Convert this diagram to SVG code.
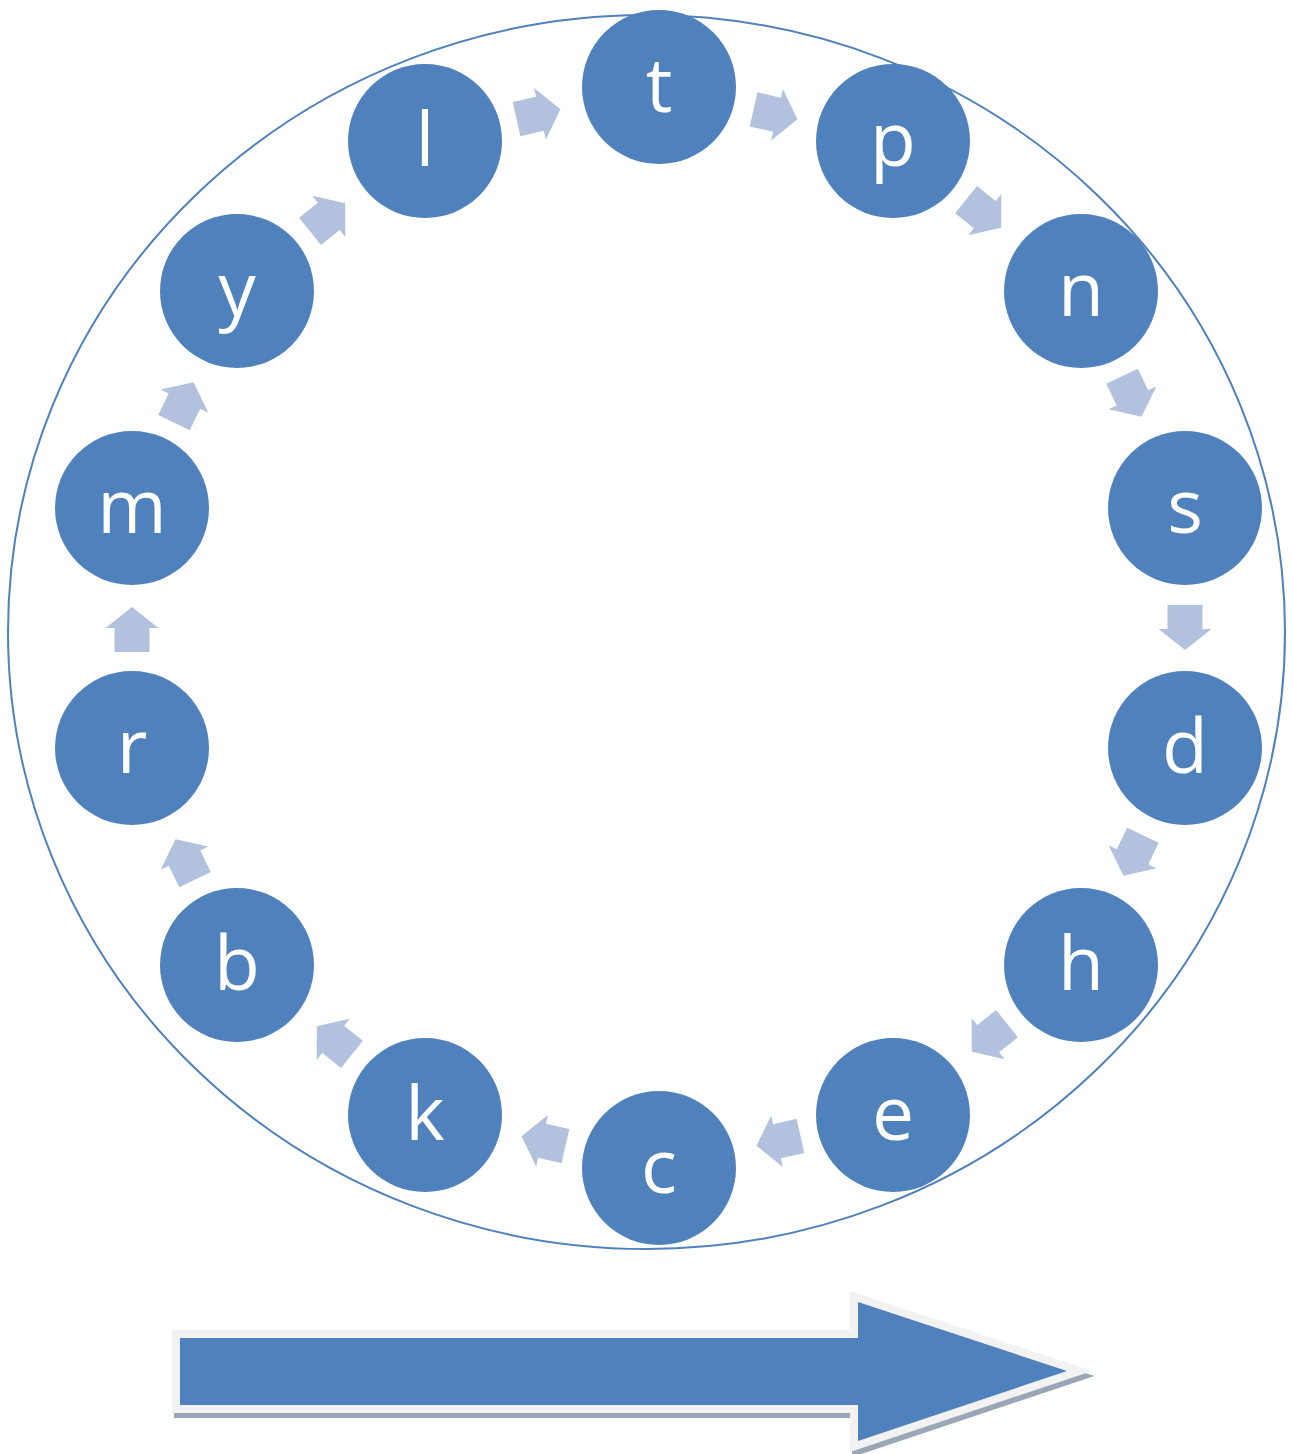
<svg xmlns="http://www.w3.org/2000/svg" xmlns:xlink="http://www.w3.org/1999/xlink" width="1293" height="1454" viewBox="0 0 1293 1454">
<style>
.node{fill:#4F81BD}
.lbl{fill:#FFFFFF;font-family:"Open Sans","Liberation Sans",sans-serif;font-size:75px;text-anchor:middle}
.conn{fill:#B2C2DE}
</style>
<defs>
<path id="arr" d="M-23,-17.5 L1,-17.5 L1,-26.5 L22,0 L1,26.5 L1,17.5 L-23,17.5 Z"/>
<polygon id="big" points="180,1338 858,1338 858,1302 1067,1371 858,1441 858,1405 180,1405"/>
</defs>
<rect width="1293" height="1454" fill="#FFFFFF"/>
<g id="connectors" class="conn">
<use href="#arr" transform="translate(776,114.5) rotate(12.8)"/>
<use href="#arr" transform="translate(984,214) rotate(38.6)"/>
<use href="#arr" transform="translate(1132,397) rotate(64.4)"/>
<use href="#arr" transform="translate(1185,628) rotate(90)"/>
<use href="#arr" transform="translate(1133,856) rotate(115.6)"/>
<use href="#arr" transform="translate(989,1038) rotate(141.4)"/>
<use href="#arr" transform="translate(778,1141) rotate(167.2)"/>
<use href="#arr" transform="translate(543,1141) rotate(-167.2)"/>
<use href="#arr" transform="translate(334,1040) rotate(-141.4)"/>
<use href="#arr" transform="translate(185,859) rotate(-115.8)"/>
<use href="#arr" transform="translate(132,629) rotate(-90)"/>
<use href="#arr" transform="translate(184,402) rotate(-64.2)"/>
<use href="#arr" transform="translate(328,217) rotate(-38.6)"/>
<use href="#arr" transform="translate(539,114) rotate(-12.8)"/>
</g>
<g id="node-t"><circle class="node" cx="659" cy="87" r="77"/><text class="lbl" x="659" y="112">t</text></g>
<g id="node-p"><circle class="node" cx="893" cy="141" r="77"/><text class="lbl" x="893" y="166">p</text></g>
<g id="node-n"><circle class="node" cx="1081" cy="291" r="77"/><text class="lbl" x="1081" y="316">n</text></g>
<g id="node-s"><circle class="node" cx="1185" cy="508" r="77"/><text class="lbl" x="1185" y="533">s</text></g>
<g id="node-d"><circle class="node" cx="1185" cy="748" r="77"/><text class="lbl" x="1185" y="773">d</text></g>
<g id="node-h"><circle class="node" cx="1081" cy="965" r="77"/><text class="lbl" x="1081" y="990">h</text></g>
<g id="node-e"><circle class="node" cx="893" cy="1115" r="77"/><text class="lbl" x="893" y="1140">e</text></g>
<g id="node-c"><circle class="node" cx="659" cy="1168" r="77"/><text class="lbl" x="659" y="1193">c</text></g>
<g id="node-k"><circle class="node" cx="425" cy="1115" r="77"/><text class="lbl" x="425" y="1140">k</text></g>
<g id="node-b"><circle class="node" cx="237" cy="965" r="77"/><text class="lbl" x="237" y="990">b</text></g>
<g id="node-r"><circle class="node" cx="132" cy="748" r="77"/><text class="lbl" x="132" y="773">r</text></g>
<g id="node-m"><circle class="node" cx="132" cy="508" r="77"/><text class="lbl" x="132" y="533">m</text></g>
<g id="node-y"><circle class="node" cx="237" cy="291" r="77"/><text class="lbl" x="237" y="316">y</text></g>
<g id="node-l"><circle class="node" cx="425" cy="141" r="77"/><text class="lbl" x="425" y="166">l</text></g>
<g id="ring"><ellipse cx="646.5" cy="632" rx="638.5" ry="617" fill="none" stroke="#4F81BD" stroke-width="2"/></g>
<g id="bigarrow">
<use href="#big" transform="translate(2,5)" fill="#9AA6B6" stroke="#9AA6B6" stroke-width="16" stroke-linejoin="miter" stroke-miterlimit="10"/>
<use href="#big" fill="#F2F2F2" stroke="#F2F2F2" stroke-width="16" stroke-linejoin="miter" stroke-miterlimit="10"/>
<use href="#big" fill="#4F81BD"/>
</g>
</svg>
